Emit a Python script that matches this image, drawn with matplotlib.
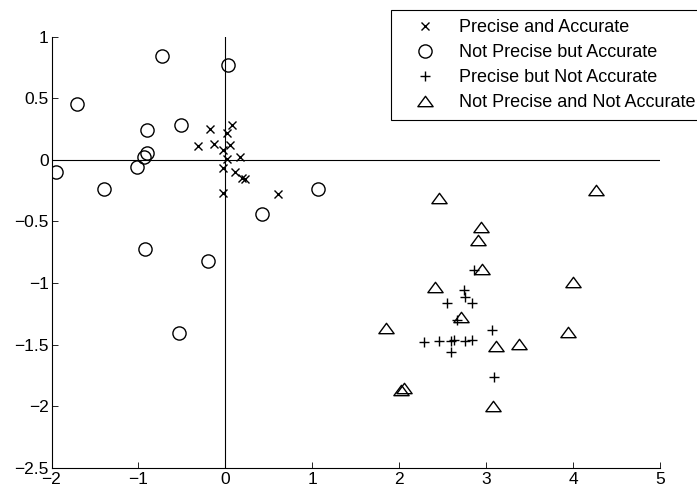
import matplotlib
matplotlib.use("Agg")
import matplotlib.pyplot as plt
from matplotlib.path import Path

plt.rcParams['font.family'] = ['Liberation Sans', 'DejaVu Sans']

labels = ["Precise and Accurate", "Not Precise but Accurate",
          "Precise but Not Accurate", "Not Precise and Not Accurate"]

pa_x = [-0.177, 0.08, 0.022, -0.317, -0.135, 0.055, -0.024, 0.016, 0.166,
        -0.024, 0.11, 0.193, 0.225, -0.024, 0.603]
pa_y = [0.25, 0.28, 0.219, 0.111, 0.131, 0.119, 0.078, 0.003, 0.019,
        -0.07, -0.098, -0.144, -0.159, -0.268, -0.279]

npa_x = [-0.726, 0.026, -1.711, -0.902, -0.515, -0.906, -0.937, -1.014,
         -1.953, -1.397, 1.062, 0.425, -0.929, -0.204, -0.53]
npa_y = [0.84, 0.77, 0.45, 0.244, 0.279, 0.054, 0.019, -0.059,
         -0.1, -0.24, -0.24, -0.442, -0.72, -0.82, -1.409]

pna_x = [2.865, 2.75, 2.757, 2.834, 2.553, 2.662, 3.064, 2.29, 2.458,
         2.596, 2.625, 2.757, 2.843, 2.59, 3.094]
pna_y = [-0.897, -1.058, -1.11, -1.16, -1.158, -1.30, -1.38, -1.477, -1.472,
         -1.47, -1.465, -1.468, -1.462, -1.558, -1.762]

npna_x = [2.459, 4.261, 2.938, 2.911, 2.953, 2.415, 4.004, 2.715, 1.848,
          3.946, 3.11, 3.379, 2.017, 2.059, 3.083]
npna_y = [-0.307, -0.248, -0.548, -0.648, -0.888, -1.028, -0.988, -1.277, -1.361,
          -1.399, -1.51, -1.496, -1.869, -1.85, -2.001]

xticks = [-2, -1, 0, 1, 2, 3, 4, 5]
yticks = [-2.5, -2, -1.5, -1, -0.5, 0, 0.5, 1]

tri = Path([(-1, -0.68), (1, -0.68), (0, 0.68), (-1, -0.68)], closed=True)

fig = plt.figure(figsize=(6.97, 4.91), dpi=100)
ax = fig.add_axes([51.5 / 697, 1 - 468 / 491, (660 - 51.5) / 697, (468 - 36.5) / 491])

ax.axhline(0, color='black', lw=0.8, zorder=1)
ax.axvline(0, color='black', lw=0.8, zorder=1)

h1, = ax.plot(pa_x, pa_y, ls='none', marker='x', ms=5.5, mew=1.0, color='black')
h2, = ax.plot(npa_x, npa_y, ls='none', marker='o', ms=9.5, mew=1.0,
              mfc='none', mec='black')
h3, = ax.plot(pna_x, pna_y, ls='none', marker='+', ms=7, mew=1.0, color='black')
h4, = ax.plot(npna_x, npna_y, ls='none', marker=tri, ms=11, mew=1.0,
              mfc='none', mec='black')

ax.set_xlim(-2, 5)
ax.set_ylim(-2.5, 1)
ax.set_xticks(xticks)
ax.set_yticks(yticks)
ax.set_yticklabels([("%g" % v).replace('-', '\u2212') for v in yticks])
ax.set_xticklabels([("%g" % v).replace('-', '\u2212') for v in xticks])
ax.tick_params(direction='in', length=4, width=0.6, labelsize=12.5, colors='black')
ax.tick_params(axis='y', pad=2)
ax.tick_params(axis='x', pad=3)
for s in ['top', 'right']:
    ax.spines[s].set_visible(False)
for s in ['left', 'bottom']:
    ax.spines[s].set_linewidth(0.8)

leg = fig.legend([h1, h2, h3, h4], labels, loc='upper left',
                 bbox_to_anchor=(391 / 697, 1 - 10 / 491), bbox_transform=fig.transFigure,
                 borderaxespad=0, fancybox=False, framealpha=1, edgecolor='black',
                 fontsize=13, handlelength=2.76, handletextpad=0.52, labelspacing=0.45,
                 borderpad=0.5)
leg.get_frame().set_linewidth(0.8)

fig.savefig("out.png", dpi=100)
